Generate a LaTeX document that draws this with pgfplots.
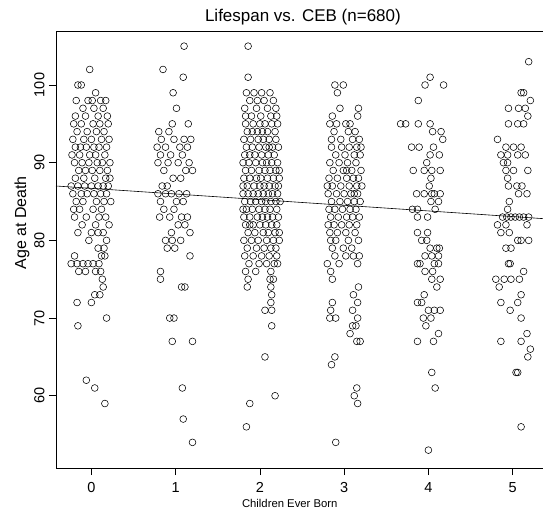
\documentclass[border=0pt]{standalone}
\usepackage{fontspec}
\setmainfont{Liberation Sans}
\usepackage{graphicx}
\usepackage{pgfplots}
\pgfplotsset{compat=1.18}

\begin{document}
\begin{tikzpicture}
\begin{axis}[
    scale only axis,
    width=487pt, height=437pt,
    xmin=-0.42, xmax=5.36,
    ymin=50.7, ymax=106.95,
    axis line style={draw=none},
    xtick={0,1,2,3,4,5}, ytick={60,70,80,90,100},
    xtick pos=bottom, ytick pos=left,
    tick align=outside, major tick length=7pt,
    tick style={black, line width=0.8pt},
    /pgf/number format/assume math mode=true,
    tick label style={font=\fontsize{14.5}{16}\selectfont},
    xticklabel style={yshift=-4pt},
    yticklabel={\rotatebox{90}{\pgfmathprintnumber{\tick}}},
    yticklabel style={anchor=east, xshift=-1pt},
    every axis title/.style={at={(axis description cs:0.507,1)}, yshift=14pt, anchor=center,
        font=\fontsize{17}{20}\selectfont},
    every axis x label/.style={at={(axis description cs:0.48,0)}, yshift=-35pt, anchor=center,
        font=\fontsize{11.3}{13}\selectfont},
    every axis y label/.style={at={(axis description cs:0,0.561)}, xshift=-34pt, anchor=center,
        rotate=90, font=\fontsize{16}{18}\selectfont},
    title={Lifespan vs. CEB (n=680)},
    xlabel={Children Ever Born},
    ylabel={Age at Death},
    pt/.style={only marks, mark=o, black, mark size=3.4pt, mark options={line width=0.55pt}},
]
\coordinate (bl) at (rel axis cs:0,0);
\coordinate (tr) at (rel axis cs:1,1);
\draw[black, line width=0.8pt] (rel axis cs:1,1) -- (rel axis cs:0,1) -- (rel axis cs:0,0) -- (rel axis cs:1,0);

% 0 children
\addplot[pt] coordinates {
(-0.02,102) (-0.16,100) (-0.12,100) (0.05,99)
(0.01,98) (0.17,98) (-0.18,98) (-0.04,98) (0.11,98)
(-0.10,97) (0.03,97) (0.14,97)
(-0.19,96) (-0.07,96) (0.08,96) (0.19,96)
(-0.21,95) (-0.12,95) (0.02,95) (0.10,95) (0.20,95)
(-0.17,94) (0.06,94) (0.15,94) (-0.05,94)
(-0.22,93) (-0.09,93) (0.00,93) (0.12,93) (0.21,93)
(-0.19,92) (-0.13,92) (-0.06,92) (0.03,92) (0.09,92) (0.18,92)
(-0.23,91) (-0.14,91) (0.05,91) (0.16,91) (-0.02,91)
(-0.20,90) (-0.11,90) (-0.03,90) (0.07,90) (0.13,90) (0.22,90)
(-0.15,89) (0.01,89) (0.10,89) (0.19,89) (-0.07,89)
(-0.09,88) (0.04,88) (0.17,88) (0.22,88) (-0.19,88)
(-0.24,87) (-0.16,87) (-0.08,87) (0.00,87) (0.08,87) (0.14,87) (0.20,87)
(-0.22,86) (-0.12,86) (-0.05,86) (0.03,86) (0.11,86) (0.18,86)
(-0.18,85) (-0.10,85) (0.06,85) (0.15,85) (0.23,85)
(-0.14,84) (0.02,84) (0.12,84) (-0.21,84)
(-0.20,83) (-0.06,83) (0.09,83) (0.17,83)
(-0.11,82) (0.05,82) (0.21,82)
(-0.16,81) (0.00,81) (0.14,81) (0.08,81)
(-0.03,80) (0.18,80) (0.08,79) (0.15,79)
(-0.20,78) (0.12,78) (0.16,78)
(-0.24,77) (-0.17,77) (-0.10,77) (-0.04,77) (0.02,77) (0.09,77)
(-0.15,76) (-0.07,76) (0.05,76) (0.11,76)
(0.13,75) (0.14,74) (0.04,73) (0.10,73) (-0.17,72) (0.00,72)
(0.18,70) (-0.16,69) (-0.06,62) (0.04,61) (0.16,59)
};

% 1 child
\addplot[pt] coordinates {
(1.10,105) (0.85,102) (1.09,101) (0.97,99) (1.01,97) (0.96,95) (1.15,95)
(0.80,94) (0.92,94)
(0.83,93) (0.98,93) (1.10,93) (1.18,93)
(0.78,92) (0.88,92) (1.05,92) (1.14,92)
(0.82,91) (0.94,91) (1.08,91)
(0.79,90) (0.91,90) (1.03,90) (1.16,90)
(0.86,89) (1.12,89) (1.20,89) (1.06,88) (0.97,88) (0.84,87) (0.90,87)
(0.79,86) (0.88,86) (0.95,86) (1.04,86) (1.13,86)
(0.82,85) (1.01,85) (1.09,85) (0.86,84) (0.98,84)
(0.81,83) (0.93,83) (1.07,83) (1.14,83)
(1.03,82) (1.11,82) (0.95,81) (1.17,81)
(0.88,80) (0.96,80) (1.06,80) (0.90,79) (0.99,79) (1.17,78)
(0.82,76) (0.82,75) (1.07,74) (1.11,74) (0.93,70) (0.98,70)
(0.96,67) (1.20,67) (1.08,61) (1.09,57) (1.20,54)
};

% 2 children
\addplot[pt] coordinates {
(1.86,105) (1.86,101)
(1.84,99) (1.93,99) (2.02,99) (2.12,99)
(1.88,98) (2.05,98) (2.16,98) (1.97,98)
(1.82,97) (1.96,97) (2.09,97) (2.19,97)
(1.90,96) (2.13,96) (2.20,96) (1.83,96) (2.01,96)
(1.83,95) (1.92,95) (2.00,95) (2.06,95) (2.14,95) (2.21,95)
(1.85,94) (1.97,94) (2.09,94) (2.18,94) (1.91,94) (2.03,94)
(1.81,93) (1.89,93) (1.98,93) (2.04,93) (2.11,93) (2.19,93)
(1.84,92) (1.91,92) (1.99,92) (2.07,92) (2.15,92) (2.22,92) (2.11,92)
(1.82,91) (1.94,91) (2.02,91) (2.10,91) (2.17,91) (1.88,91)
(1.80,90) (1.87,90) (1.95,90) (2.03,90) (2.08,90) (2.14,90) (2.21,90)
(1.83,89) (1.90,89) (1.99,89) (2.06,89) (2.12,89) (2.19,89) (2.23,89)
(1.81,88) (1.88,88) (1.96,88) (2.01,88) (2.09,88) (2.16,88) (2.23,88)
(1.85,87) (1.93,87) (2.00,87) (2.05,87) (2.11,87) (2.18,87) (1.80,87) (2.22,87)
(1.80,86) (1.86,86) (1.92,86) (1.98,86) (2.04,86) (2.10,86) (2.15,86) (2.21,86)
(1.82,85) (1.89,85) (1.95,85) (2.02,85) (2.07,85) (2.13,85) (2.19,85) (2.24,85)
(1.84,84) (1.91,84) (1.99,84) (2.06,84) (2.12,84) (2.20,84) (1.80,84)
(1.81,83) (1.88,83) (1.97,83) (2.03,83) (2.09,83) (2.15,83) (2.22,83)
(1.83,82) (1.92,82) (2.00,82) (2.07,82) (2.14,82) (2.20,82) (1.88,82)
(1.86,81) (1.94,81) (2.04,81) (2.10,81) (2.18,81) (2.23,81)
(1.81,80) (1.90,80) (1.98,80) (2.08,80) (2.16,80) (2.23,80)
(1.85,79) (1.96,79) (2.05,79) (2.13,79) (2.19,79)
(1.82,78) (1.92,78) (2.02,78) (2.11,78) (2.20,78)
(1.87,77) (1.99,77) (2.08,77) (2.17,77) (2.21,77)
(1.83,76) (1.95,76) (2.13,76)
(1.86,75) (2.12,75) (2.16,75) (1.85,74) (2.13,74)
(2.14,73) (2.13,72) (2.06,71) (2.14,71) (2.14,69)
(2.06,65) (2.18,60) (1.88,59) (1.84,56)
};

% 3 children
\addplot[pt] coordinates {
(2.89,100) (2.99,100) (2.92,99) (2.95,97) (3.17,97) (2.86,96) (3.16,96)
(2.91,95) (3.02,95) (3.07,95) (2.83,95)
(2.88,94) (3.05,94) (3.13,94)
(2.96,93) (3.10,93) (3.18,93) (2.85,93)
(2.85,92) (2.97,92) (3.06,92) (3.15,92) (3.20,92)
(2.90,91) (3.01,91) (3.12,91) (3.19,91)
(2.83,90) (2.94,90) (3.04,90) (3.14,90)
(2.87,89) (2.99,89) (3.09,89) (3.20,89) (3.03,89)
(2.82,88) (2.92,88) (3.03,88) (3.11,88) (3.17,88)
(2.86,87) (2.96,87) (3.06,87) (3.15,87) (3.21,87) (2.80,87)
(2.81,86) (2.91,86) (3.00,86) (3.08,86) (3.16,86) (3.12,86)
(2.85,85) (2.95,85) (3.04,85) (3.12,85) (3.19,85)
(2.89,84) (2.98,84) (3.07,84) (3.14,84) (2.82,84)
(2.84,83) (2.93,83) (3.03,83) (3.10,83) (3.18,83)
(2.88,82) (2.97,82) (3.06,82) (3.15,82) (2.81,82)
(2.83,81) (2.92,81) (3.02,81) (3.13,81)
(2.90,80) (3.05,80) (3.17,80) (2.84,80)
(2.86,79) (2.99,79) (3.09,79)
(2.89,78) (3.11,78) (3.18,78) (3.02,78)
(2.80,77) (2.94,77) (3.16,77)
(2.84,76) (2.86,75) (3.17,74) (3.11,73) (2.86,72) (3.16,72)
(2.84,71) (3.10,71) (2.83,70) (2.90,70) (3.16,70) (3.14,69) (3.10,69)
(3.07,68) (3.15,67) (3.19,67) (2.89,65) (2.85,64)
(3.15,61) (3.12,60) (3.16,59) (2.90,54)
};

% 4 children
\addplot[pt] coordinates {
(4.02,101) (3.96,100) (4.18,100) (3.88,98)
(3.67,95) (3.73,95) (3.88,95) (4.02,95)
(4.05,94) (4.15,94) (4.17,93)
(3.89,92) (4.06,92) (3.80,92) (4.02,91) (4.13,91) (3.98,90)
(3.95,89) (4.04,89) (4.14,89) (3.82,89) (4.03,88) (4.01,87)
(3.86,86) (3.95,86) (4.04,86) (4.07,86) (4.14,86)
(4.03,85) (4.12,85) (3.87,84) (4.08,84) (3.81,84)
(3.87,83) (3.99,83) (3.87,81) (3.99,81) (3.92,80) (3.98,80)
(4.02,79) (4.10,79) (4.13,79) (3.96,78) (4.04,78) (4.12,78)
(3.87,77) (3.90,77) (4.07,77) (4.12,77)
(3.96,76) (4.05,76) (4.04,75) (4.14,75) (4.10,74) (3.95,73)
(3.87,72) (3.92,72) (4.00,71) (4.07,71) (4.14,71)
(3.94,70) (4.03,70) (3.97,69) (4.12,68) (3.87,67) (4.06,67)
(4.04,63) (4.08,61) (4.00,53)
};

% 5 children
\addplot[pt] coordinates {
(5.19,103) (5.10,99) (5.13,99) (5.21,98)
(4.95,97) (5.07,97) (5.15,97) (5.18,96)
(4.95,95) (5.06,95) (5.13,95) (4.82,93)
(4.92,92) (5.01,92) (5.10,92)
(4.86,91) (4.94,91) (5.06,91) (5.15,91)
(4.94,90) (4.89,90) (4.92,89) (5.01,89) (5.18,89) (4.94,88)
(4.95,87) (5.05,87) (5.11,87) (5.07,86) (5.17,86) (4.96,85) (4.94,84)
(4.88,83) (4.93,83) (4.98,83) (5.03,83) (5.08,83) (5.13,83) (5.19,83)
(4.82,82) (4.92,82) (5.17,82) (4.86,81) (4.96,81)
(5.06,80) (5.10,80) (5.19,80) (4.92,79) (4.98,79)
(4.95,77) (4.97,77) (5.13,76)
(4.80,75) (4.90,75) (4.98,75) (5.08,75) (4.84,74) (5.10,73)
(4.86,72) (5.06,72) (4.97,71) (5.10,70) (5.17,68)
(4.86,67) (5.10,67) (5.21,66) (5.18,65) (5.04,63) (5.06,63) (5.10,56)
};

% least squares line
\addplot[no marks, sharp plot, black, line width=0.6pt] coordinates {(-0.42,87.0) (5.36,82.8)};
\end{axis}
\pgfresetboundingbox
\path ([shift={(-56pt,-52pt)}]bl) rectangle ([shift={(0pt,31pt)}]tr);
\end{tikzpicture}
\end{document}
